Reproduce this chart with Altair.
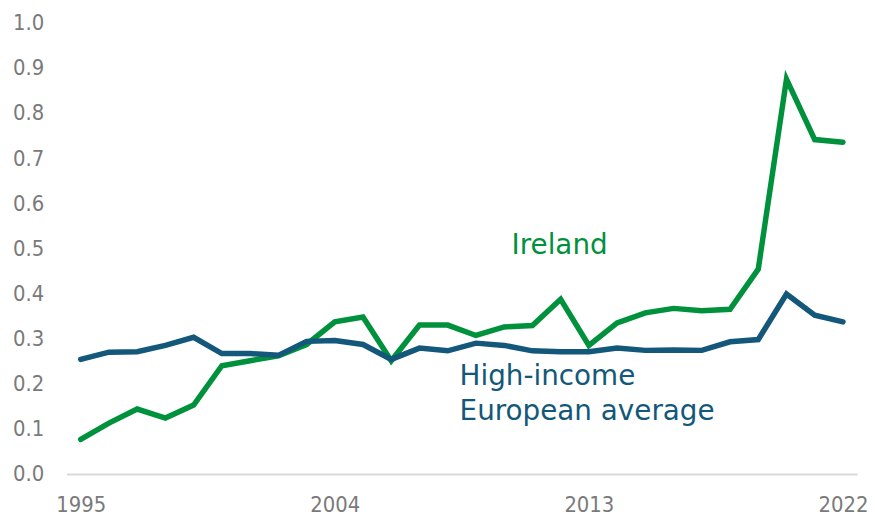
import altair as alt
import pandas as pd

years = list(range(1995, 2023))
ireland = [0.077, 0.113, 0.144, 0.124, 0.153, 0.240, 0.251, 0.262, 0.287, 0.337,
           0.348, 0.251, 0.330, 0.330, 0.307, 0.326, 0.329, 0.387, 0.285, 0.335,
           0.357, 0.367, 0.362, 0.365, 0.454, 0.875, 0.741, 0.735]
europe = [0.254, 0.270, 0.271, 0.285, 0.303, 0.267, 0.267, 0.263, 0.294, 0.296,
          0.287, 0.254, 0.279, 0.273, 0.290, 0.285, 0.273, 0.271, 0.271, 0.279,
          0.274, 0.275, 0.274, 0.293, 0.298, 0.399, 0.352, 0.337]
x_ticks = [1995, 2004, 2013, 2022]

label_text = ["Ireland", "High-income", "European average"]
label_x = [2010.26, 2008.42, 2008.42]
label_y = [0.505, 0.2156, 0.1364]
label_series = ["Ireland", "Europe", "Europe"]

GREEN = "#00913C"
BLUE = "#13587A"

df = pd.DataFrame({
    "year": years * 2,
    "value": ireland + europe,
    "series": ["Ireland"] * len(years) + ["Europe"] * len(years),
    "order": [0] * len(years) + [1] * len(years),
})
labels = pd.DataFrame({"text": label_text, "x": label_x, "y": label_y, "series": label_series})

xscale = alt.Scale(domain=[1994.5, 2022.5], nice=False, zero=False)
yscale = alt.Scale(domain=[0, 1], nice=False)
color = alt.Scale(domain=["Ireland", "Europe"], range=[GREEN, BLUE])

lines = alt.Chart(df).mark_line(strokeWidth=5.5, strokeJoin="miter", strokeCap="round").encode(
    x=alt.X("year:Q", scale=xscale,
            axis=alt.Axis(values=x_ticks, format="d", title=None, grid=False, ticks=False,
                          domainColor="#d9d9d9", domainWidth=2, labelFont="DejaVu Sans Condensed",
                          labelFontSize=22, labelColor="#7a7a7a", labelPadding=21,
                          labelFlush=False)),
    y=alt.Y("value:Q", scale=yscale,
            axis=alt.Axis(values=[i / 10 for i in range(11)], format=".1f", title=None,
                          grid=False, ticks=False, domain=False,
                          labelFont="DejaVu Sans Condensed", labelFontSize=22,
                          labelColor="#7a7a7a", labelPadding=23)),
    color=alt.Color("series:N", scale=color, legend=None),
    order=alt.Order("order:Q"),
    detail="series:N",
)

text = alt.Chart(labels).mark_text(align="left", baseline="middle", font="DejaVu Sans",
                                   fontSize=28).encode(
    x=alt.X("x:Q", scale=xscale),
    y=alt.Y("y:Q", scale=yscale),
    text="text:N",
    color=alt.Color("series:N", scale=color, legend=None),
)

chart = alt.layer(lines, text).properties(
    width=796, height=454.5,
    autosize=alt.AutoSizeParams(type="none"),
    padding={"left": 59, "top": 13, "right": 10, "bottom": 46},
).configure_view(stroke=None)

chart.save("out.html", embed_options={"renderer": "svg", "actions": False})
